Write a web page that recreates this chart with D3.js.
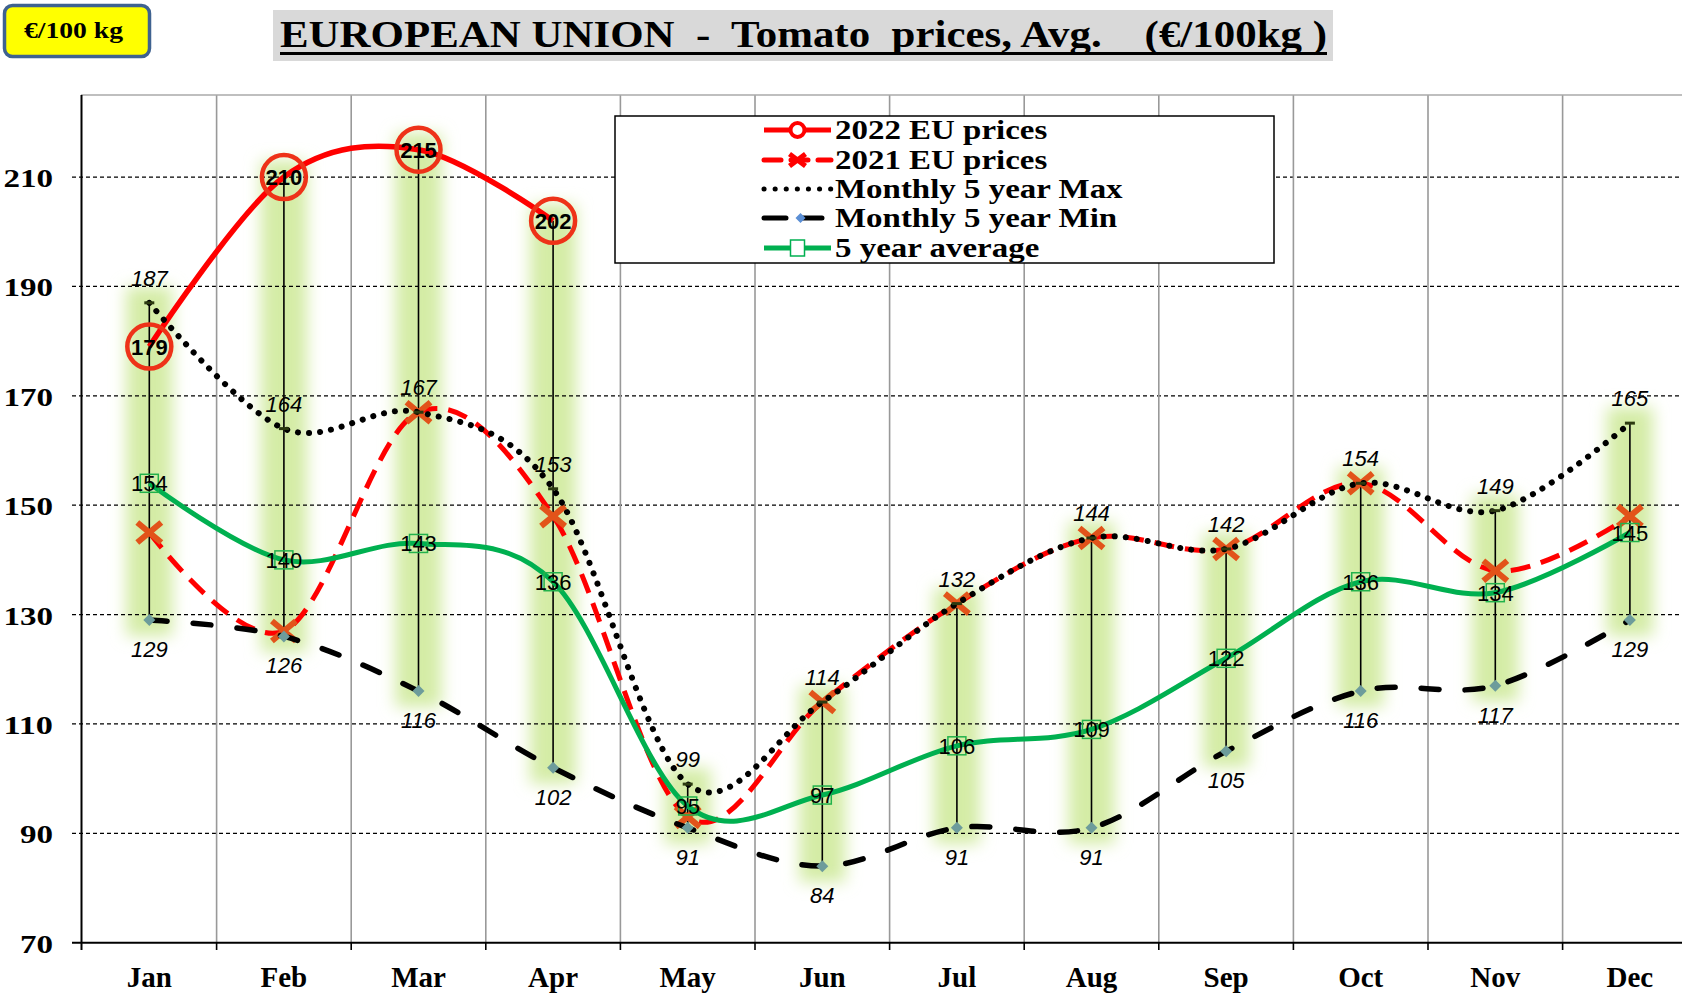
<!DOCTYPE html>
<html><head><meta charset="utf-8">
<script src="https://cdn.jsdelivr.net/npm/d3@7"></script>
<style>
html,body{margin:0;padding:0;background:#fff;}
svg{display:block;}
text{white-space:pre;}
</style></head>
<body>
<svg id="chart" width="1682" height="996"></svg>
<script>
const months = ["Jan","Feb","Mar","Apr","May","Jun","Jul","Aug","Sep","Oct","Nov","Dec"];
const prices2022 = [179,210,215,202];
const prices2021 = [145,127,167,148,93,114,132,144,142,154,138,148];
const max5 = [187,164,167,153,99,114,132,144,142,154,149,165];
const min5 = [129,126,116,102,91,84,91,91,105,116,117,129];
const avg5 = [154,140,143,136,95,97,106,109,122,136,134,145];
const yTicks = [70,90,110,130,150,170,190,210];
const legendLabels = ["2022 EU prices","2021 EU prices","Monthly 5 year Max","Monthly 5 year Min","5 year average"];
const titleText = "EUROPEAN UNION  -  Tomato  prices, Avg.    (€/100kg )";
const unitText = "€/100 kg";

const W = 1682, H = 996;
const svg = d3.select("#chart");
const serif = "'Liberation Serif','Times New Roman',serif";
const sans = "'Liberation Sans',Arial,sans-serif";

const x = d3.scaleBand().domain(months).range([82, 82 + 12*134.6]).padding(0);
const cx = m => x(m) + x.bandwidth()/2;
const y = d3.scaleLinear().domain([70,225]).range([942.7,95]);

const defs = svg.append("defs");
const f = defs.append("filter").attr("id","glow").attr("x","-100%").attr("y","-20%").attr("width","300%").attr("height","140%");
f.append("feGaussianBlur").attr("stdDeviation",8);

// glow bands behind
const allSeries = months.map((m,i)=>{
  const vals=[prices2021[i],max5[i],min5[i],avg5[i]];
  if(i<prices2022.length) vals.push(prices2022[i]);
  return {m, hi:d3.max(vals), lo:d3.min(vals)};
});
svg.append("g").selectAll("rect").data(allSeries).join("rect")
  .attr("x",d=>cx(d.m)-23).attr("width",46)
  .attr("y",d=>y(d.hi)-16).attr("height",d=>y(d.lo)-y(d.hi)+32)
  .attr("fill","#d4eca6").attr("filter","url(#glow)");

// grid
const grid = svg.append("g");
grid.selectAll("line.h").data(yTicks.filter(t=>t>70)).join("line")
  .attr("x1",72).attr("x2",W).attr("y1",d=>y(d)).attr("y2",d=>y(d))
  .attr("stroke","#000").attr("stroke-width",1.2).attr("stroke-dasharray","4,3");
grid.selectAll("line.v").data(months.slice(1)).join("line")
  .attr("x1",d=>x(d)).attr("x2",d=>x(d)).attr("y1",95).attr("y2",942.7)
  .attr("stroke","#999").attr("stroke-width",1.6);
grid.append("line").attr("x1",81).attr("x2",W).attr("y1",95).attr("y2",95)
  .attr("stroke","#aaa").attr("stroke-width",1.6);

// axes
const ax = svg.append("g");
ax.append("line").attr("x1",81.5).attr("x2",81.5).attr("y1",95).attr("y2",950).attr("stroke","#000").attr("stroke-width",2);
ax.append("line").attr("x1",72).attr("x2",W).attr("y1",942.7).attr("y2",942.7).attr("stroke","#000").attr("stroke-width",2);
ax.selectAll("line.t").data(months.slice(1)).join("line")
  .attr("x1",d=>x(d)).attr("x2",d=>x(d)).attr("y1",942.7).attr("y2",950)
  .attr("stroke","#000").attr("stroke-width",1.6);
ax.selectAll("text.y").data(yTicks).join("text")
  .attr("x",53).attr("y",d=>y(d)+10).attr("text-anchor","end")
  .attr("font-family",serif).attr("font-weight","bold").attr("font-size",26)
  .attr("textLength",d=>String(d).length*16.5).attr("lengthAdjust","spacingAndGlyphs")
  .text(d=>d);
ax.selectAll("text.x").data(months).join("text")
  .attr("x",d=>cx(d)).attr("y",987).attr("text-anchor","middle")
  .attr("font-family",serif).attr("font-weight","bold").attr("font-size",29)
  .text(d=>d);

// high-low lines
svg.append("g").selectAll("line").data(allSeries).join("line")
  .attr("x1",d=>cx(d.m)).attr("x2",d=>cx(d.m)).attr("y1",d=>y(d.hi)).attr("y2",d=>y(d.lo))
  .attr("stroke","#000").attr("stroke-width",1.6);

const line = d3.line().x((d,i)=>cx(months[i])).y(d=>y(d)).curve(d3.curveCatmullRom.alpha(0));

// 2022
svg.append("path").attr("d",line(prices2022)).attr("fill","none").attr("stroke","#ff0000").attr("stroke-width",5.5);
svg.append("g").selectAll("circle").data(prices2022).join("circle")
  .attr("cx",(d,i)=>cx(months[i])).attr("cy",d=>y(d)).attr("r",22)
  .attr("fill","none").attr("stroke","#ee3218").attr("stroke-width",4.5);
// 2021
svg.append("path").attr("d",line(prices2021)).attr("fill","none").attr("stroke","#ff0000").attr("stroke-width",5).attr("stroke-dasharray","20,11");
const xMark = "M-12,-10L12,10M-12,10L12,-10";
svg.append("g").selectAll("path").data(prices2021).join("path")
  .attr("transform",(d,i)=>`translate(${cx(months[i])},${y(d)})`)
  .attr("d",xMark).attr("stroke","#e2531a").attr("stroke-width",6).attr("fill","none");
// max
svg.append("path").attr("d",line(max5)).attr("fill","none").attr("stroke","#000").attr("stroke-width",6)
  .attr("stroke-dasharray","0.1,11").attr("stroke-linecap","round");
svg.append("g").selectAll("line").data(max5).join("line")
  .attr("x1",(d,i)=>cx(months[i])-5).attr("x2",(d,i)=>cx(months[i])+5)
  .attr("y1",d=>y(d)).attr("y2",d=>y(d)).attr("stroke","#2c3a10").attr("stroke-width",3);
// min
svg.append("path").attr("d",line(min5)).attr("fill","none").attr("stroke","#000").attr("stroke-width",5.5)
  .attr("stroke-dasharray","18,26").attr("stroke-linecap","round");
svg.append("g").selectAll("path").data(min5).join("path")
  .attr("transform",(d,i)=>`translate(${cx(months[i])},${y(d)})`)
  .attr("d","M0,-6L6,0L0,6L-6,0Z").attr("fill","#6d9c9b");
// avg
svg.append("path").attr("d",line(avg5)).attr("fill","none").attr("stroke","#00b050").attr("stroke-width",5);
svg.append("g").selectAll("rect").data(avg5).join("rect")
  .attr("x",(d,i)=>cx(months[i])-9).attr("y",d=>y(d)-9).attr("width",18).attr("height",18)
  .attr("fill","none").attr("stroke","#22b24c").attr("stroke-width",1.5);

// labels
const lab = svg.append("g").attr("font-family",sans).attr("font-size",22).attr("text-anchor","middle");
lab.selectAll("text.mx").data(max5).join("text")
  .attr("x",(d,i)=>cx(months[i])).attr("y",d=>y(d)-17).attr("font-style","italic").text(d=>d);
lab.selectAll("text.mn").data(min5).join("text")
  .attr("x",(d,i)=>cx(months[i])).attr("y",d=>y(d)+37).attr("font-style","italic").text(d=>d);
lab.selectAll("text.av").data(avg5).join("text")
  .attr("x",(d,i)=>cx(months[i])).attr("y",d=>y(d)+8).text(d=>d);
lab.selectAll("text.p22").data(prices2022).join("text")
  .attr("x",(d,i)=>cx(months[i])).attr("y",d=>y(d)+8).attr("font-weight","bold").text(d=>d);

// legend
const lg = svg.append("g");
lg.append("rect").attr("x",615).attr("y",116).attr("width",659).attr("height",147)
  .attr("fill","#fff").attr("stroke","#000").attr("stroke-width",1.5);
const rows = [130,160,189,218,248];
const lx1=764, lx2=831, lmid=(lx1+lx2)/2;
lg.append("line").attr("x1",lx1).attr("x2",lx2).attr("y1",rows[0]).attr("y2",rows[0]).attr("stroke","#ff0000").attr("stroke-width",5);
lg.append("circle").attr("cx",lmid).attr("cy",rows[0]).attr("r",7).attr("fill","#fff").attr("stroke","#ff0000").attr("stroke-width",4);
lg.append("line").attr("x1",lx1).attr("x2",lx2).attr("y1",rows[1]).attr("y2",rows[1]).attr("stroke","#ff0000").attr("stroke-width",5).attr("stroke-dasharray","17,10").attr("stroke-linecap","round");
lg.append("path").attr("transform",`translate(${lmid},${rows[1]})`).attr("d","M-8,-6L8,6M-8,6L8,-6").attr("stroke","#ff0000").attr("stroke-width",5);
lg.append("line").attr("x1",lx1).attr("x2",lx2).attr("y1",rows[2]).attr("y2",rows[2]).attr("stroke","#000").attr("stroke-width",5).attr("stroke-dasharray","0.1,11").attr("stroke-linecap","round");
lg.append("line").attr("x1",lx1).attr("x2",lx2).attr("y1",rows[3]).attr("y2",rows[3]).attr("stroke","#000").attr("stroke-width",5).attr("stroke-dasharray","22,14").attr("stroke-linecap","round");
lg.append("path").attr("transform",`translate(${lmid+3},${rows[3]})`).attr("d","M0,-5L5,0L0,5L-5,0Z").attr("fill","#5b8fd5");
lg.append("line").attr("x1",lx1).attr("x2",lx2).attr("y1",rows[4]).attr("y2",rows[4]).attr("stroke","#00b050").attr("stroke-width",5);
lg.append("rect").attr("x",lmid-7).attr("y",rows[4]-8).attr("width",14).attr("height",16).attr("fill","#fff").attr("stroke","#00b050").attr("stroke-width",1.5);
const lt = lg.selectAll("text").data(legendLabels).join("text")
  .attr("x",835).attr("y",(d,i)=>rows[i]+9)
  .attr("font-family",serif).attr("font-weight","bold").attr("font-size",27)
  .text(d=>d);
lt.each(function(){ const w=this.getComputedTextLength(); d3.select(this).attr("textLength",w*1.22).attr("lengthAdjust","spacingAndGlyphs"); });

// title
svg.append("rect").attr("x",273).attr("y",10).attr("width",1060).attr("height",51).attr("fill","#d9d9d9");
svg.append("text").attr("x",280).attr("y",47).attr("font-family",serif).attr("font-weight","bold").attr("font-size",38)
  .attr("textLength",1047).attr("lengthAdjust","spacingAndGlyphs").text(titleText);
svg.append("rect").attr("x",280).attr("y",52).attr("width",1047).attr("height",3).attr("fill","#000");

// unit box
svg.append("rect").attr("x",4.5).attr("y",5.5).attr("width",145).attr("height",51).attr("rx",8)
  .attr("fill","#ffff00").attr("stroke","#3f6290").attr("stroke-width",3.5);
svg.append("text").attr("x",24).attr("y",38).attr("font-family",serif).attr("font-weight","bold").attr("font-size",23)
  .attr("textLength",99).attr("lengthAdjust","spacingAndGlyphs").text(unitText);
</script>
</body></html>
